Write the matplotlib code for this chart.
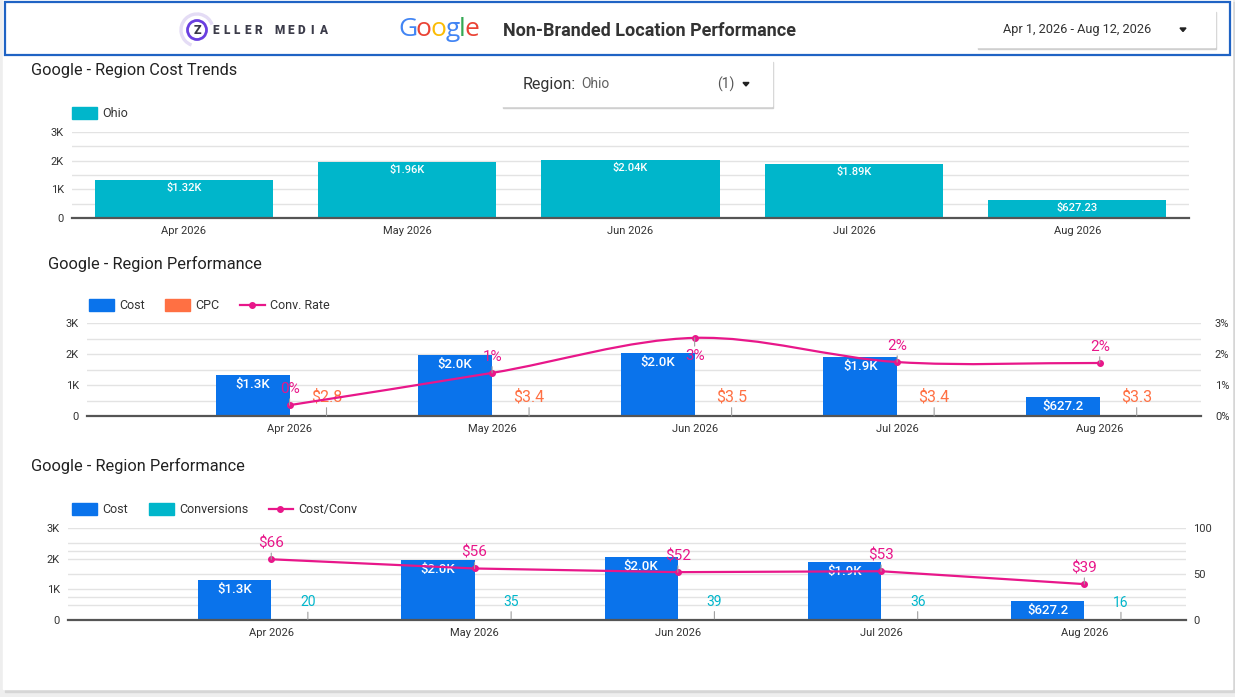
import matplotlib
matplotlib.use('Agg')
import matplotlib.pyplot as plt
from matplotlib.patches import Rectangle, Circle, Arc, Polygon, PathPatch
from matplotlib.path import Path
import matplotlib.ticker as mticker

plt.rcParams['font.family'] = ['Roboto', 'DejaVu Sans']

# ---------------- data ----------------
months = ['Apr 2026', 'May 2026', 'Jun 2026', 'Jul 2026', 'Aug 2026']
region = 'Ohio'
cost = [1320, 1960, 2040, 1890, 627.23]
cpc = [2.8, 3.4, 3.5, 3.4, 3.3]
conv_rate = [0.35, 1.39, 2.52, 1.74, 1.71]
conversions = [20, 35, 39, 36, 16]
cost_per_conv = [66, 56, 52, 53, 39]
date_range = 'Apr 1, 2026 - Aug 12, 2026'
report_title = 'Non-Branded Location Performance'

# ---------------- style ----------------
W, H = 1235, 697
BLUE = '#0a73eb'
TEAL = '#00b6cb'
ORANGE = '#ff7043'
PINK = '#e8178a'
GRID = '#e3e3e3'
TXT = '#333333'

fig = plt.figure(figsize=(W / 100, H / 100), dpi=100)
fig.patch.set_facecolor('#eeeeee')

bg = fig.add_axes([0, 0, 1, 1])
bg.set_xlim(0, W)
bg.set_ylim(H, 0)
bg.axis('off')
bg.set_zorder(0)


def add_ax(l, t, r, b):
    ax = fig.add_axes([l / W, 1 - b / H, (r - l) / W, (b - t) / H])
    ax.set_zorder(2)
    ax.patch.set_alpha(0)
    return ax


def ktick(v, pos):
    return '0' if v == 0 else f'{v/1000:.0f}K'


def k2(v):
    return f'${v/1000:.2f}K' if v >= 1000 else f'${v:.2f}'


def k1(v):
    return f'${v/1000:.1f}K' if v >= 1000 else f'${v:.1f}'


def style_left(ax, extra_grid=()):
    ax.set_ylim(0, 3000)
    for s in ['top', 'right', 'left']:
        ax.spines[s].set_visible(False)
    ax.spines['bottom'].set_color('#555555')
    ax.spines['bottom'].set_linewidth(1.6)
    ax.set_yticks([0, 1000, 2000, 3000])
    ax.yaxis.set_major_formatter(mticker.FuncFormatter(ktick))
    ax.tick_params(axis='y', length=0, labelsize=8, colors=TXT, pad=6)
    ax.tick_params(axis='x', length=0, labelsize=8, colors=TXT, pad=6)
    for g in list(range(500, 3001, 500)) + list(extra_grid):
        ax.axhline(g, color=GRID, lw=1, zorder=0)


def smooth_path(xs, ys):
    n = len(xs)
    m = []
    for i in range(n):
        if i == 0:
            m.append((ys[1] - ys[0]) / (xs[1] - xs[0]))
        elif i == n - 1:
            m.append((ys[-1] - ys[-2]) / (xs[-1] - xs[-2]))
        else:
            m.append((ys[i + 1] - ys[i - 1]) / (xs[i + 1] - xs[i - 1]))
    verts = [(xs[0], ys[0])]
    codes = [Path.MOVETO]
    for i in range(n - 1):
        dx = xs[i + 1] - xs[i]
        verts += [(xs[i] + dx / 3, ys[i] + m[i] * dx / 3),
                  (xs[i + 1] - dx / 3, ys[i + 1] - m[i + 1] * dx / 3),
                  (xs[i + 1], ys[i + 1])]
        codes += [Path.CURVE4] * 3
    return Path(verts, codes)


def leader_label(ax, text, xy, off, color, size):
    above = off > 0
    ax.annotate(text, xy=xy, xytext=(0, off), textcoords='offset pixels',
                ha='center', va='bottom' if above else 'top', color=color, fontsize=size,
                arrowprops=dict(arrowstyle='-', color='#9e9e9e', lw=0.8, shrinkA=0, shrinkB=0,
                                relpos=(0.5, 0) if above else (0.5, 1)),
                zorder=6)


def inside_label(ax, text, xy, size):
    ax.annotate(text, xy=xy, xytext=(0, -3), textcoords='offset pixels', ha='center', va='top',
                color='white', fontsize=size, fontweight='medium', zorder=5)


# ---------------- page / header ----------------
bg.add_patch(Rectangle((5, 2), 1230, 690, color='#d6d6d6', zorder=0))
bg.add_patch(Rectangle((3, 0), 1229, 689, color='white', zorder=0.5))
bg.add_patch(Rectangle((5, 2), 1225, 53, fill=False, edgecolor='#1f63c4', lw=1.6, zorder=1))

# Zeller media logo
bg.add_patch(Arc((197, 30), 32, 32, theta1=110, theta2=340, color='#e4dcf5', lw=2.4, zorder=2))
bg.add_patch(Circle((197, 30), 9.5, fill=False, edgecolor='#6a3fe0', lw=2.0, zorder=2))
bg.text(197, 30.5, 'Z', ha='center', va='center', fontsize=9, fontweight='black', color='#3a3a48', zorder=3)
for i, ch in enumerate('ELLER'):
    bg.text(215.4 + i * 10.8, 30, ch, ha='center', va='center', fontsize=8.5, fontweight='black',
            color='#3c3c4a', zorder=3)
for i, ch in enumerate('MEDIA'):
    bg.text(279.4 + i * 10.8, 30, ch, ha='center', va='center', fontsize=8.5, fontweight='black',
            color='#3c3c4a', zorder=3)

# Google logo
renderer = fig.canvas.get_renderer()
gx = 398
for ch, col in zip('Google', ['#4285F4', '#EA4335', '#FBBC05', '#4285F4', '#34A853', '#EA4335']):
    t = bg.text(gx, 29, ch, ha='left', va='center', fontsize=19, color=col, zorder=3,
                family=['Open Sans', 'DejaVu Sans'])
    bb = t.get_window_extent(renderer=renderer)
    gx += bb.width * 0.93

bg.text(503, 31, report_title, ha='left', va='center', fontsize=13, fontweight='bold', color='#333333', zorder=3)

# date box
bg.add_patch(Rectangle((978, 11.5), 238, 37, color='#cfcfcf', zorder=2))
bg.add_patch(Rectangle((977, 10), 238, 37, color='white', zorder=2.5))
bg.text(1003, 30, date_range, ha='left', va='center', fontsize=9.2, color=TXT, zorder=3)
bg.add_patch(Polygon([(1180, 28), (1186, 28), (1183, 31.5)], color='#222222', zorder=3))

# region box
bg.add_patch(Rectangle((503, 61.5), 270, 46, color='#cfcfcf', zorder=2))
bg.add_patch(Rectangle((502, 60), 270, 46, color='white', zorder=2.5))
bg.text(523, 84, 'Region:', ha='left', va='center', fontsize=11.5, color=TXT, zorder=3)
bg.text(581, 84, region, ha='left', va='center', fontsize=10, color='#616161', zorder=3)
bg.text(717, 84, '(1)', ha='left', va='center', fontsize=10, color='#555555', zorder=3)
bg.add_patch(Polygon([(743, 82.5), (749, 82.5), (746, 86)], color='#222222', zorder=3))

# ---------------- chart 1 ----------------
bg.text(31, 70, 'Google - Region Cost Trends', ha='left', va='center', fontsize=11.7, color='#222222')
bg.add_patch(Rectangle((72, 107), 25, 12, color=TEAL))
bg.text(102, 113.5, region, ha='left', va='center', fontsize=9, color=TXT)

ax1 = add_ax(72, 132, 1189, 218)
x1 = [i + 0.5 for i in range(len(months))]
ax1.set_xlim(0, len(months))
style_left(ax1)
ax1.bar(x1, cost, width=0.797, color=TEAL, zorder=2)
for x, v in zip(x1, cost):
    inside_label(ax1, k2(v), (x, v), 8)
ax1.set_xticks(x1)
ax1.set_xticklabels(months)

# ---------------- chart 2 ----------------
bg.text(48, 264, 'Google - Region Performance', ha='left', va='center', fontsize=11.8, color='#222222')
bg.add_patch(Rectangle((89, 299), 25, 12, color=BLUE))
bg.text(119, 305.5, 'Cost', ha='left', va='center', fontsize=9, color=TXT)
bg.add_patch(Rectangle((165, 299), 25, 12, color=ORANGE))
bg.text(195, 305.5, 'CPC', ha='left', va='center', fontsize=9, color=TXT)
bg.plot([240, 265], [305, 305], color=PINK, lw=1.6)
bg.plot([252], [305], 'o', color=PINK, ms=4)
bg.text(270, 305.5, 'Conv. Rate', ha='left', va='center', fontsize=9, color=TXT)

w = 0.365
ax2 = add_ax(87, 323, 1201, 416)
c2 = [i + 1 for i in range(len(months))]
ax2.set_xlim(0, len(months) + 0.5)
style_left(ax2)
ax2.bar([c - w / 2 for c in c2], cost, width=w, color=BLUE, zorder=2)
ax2.bar([c + w / 2 for c in c2], cpc, width=w, color=ORANGE, zorder=2)
for c, v in zip(c2, cost):
    inside_label(ax2, k1(v), (c - w / 2, v), 9.5)
for c, v in zip(c2, cpc):
    leader_label(ax2, f'${v:.1f}', (c + w / 2, v), 11, ORANGE, 11.5)
ax2.set_xticks(c2)
ax2.set_xticklabels(months)

ax2r = ax2.twinx()
ax2r.set_zorder(3)
ax2r.set_ylim(0, 3)
ax2r.set_xlim(ax2.get_xlim())
for s in ax2r.spines.values():
    s.set_visible(False)
ax2r.set_yticks([0, 1, 2, 3])
ax2r.yaxis.set_major_formatter(mticker.FuncFormatter(lambda v, p: f'{v:.0f}%'))
ax2r.tick_params(axis='y', length=0, labelsize=8, colors=TXT, pad=10)
ax2r.add_patch(PathPatch(smooth_path(c2, conv_rate), fill=False, edgecolor=PINK, lw=1.6, zorder=4))
ax2r.plot(c2, conv_rate, 'o', color=PINK, ms=4, zorder=5)
conv_label_side = [1, 1, -1, 1, 1]
for c, v, s in zip(c2, conv_rate, conv_label_side):
    leader_label(ax2r, f'{v:.0f}%', (c, v), (9 if s > 0 else 11) * s, PINK, 11)

# ---------------- chart 3 ----------------
bg.text(31, 466, 'Google - Region Performance', ha='left', va='center', fontsize=11.8, color='#222222')
bg.add_patch(Rectangle((72, 503), 25, 12, color=BLUE))
bg.text(102, 509.5, 'Cost', ha='left', va='center', fontsize=9, color=TXT)
bg.add_patch(Rectangle((149, 503), 25, 12, color=TEAL))
bg.text(179, 509.5, 'Conversions', ha='left', va='center', fontsize=9, color=TXT)
bg.plot([269, 293], [509, 509], color=PINK, lw=1.6)
bg.plot([280], [509], 'o', color=PINK, ms=4)
bg.text(298, 509.5, 'Cost/Conv', ha='left', va='center', fontsize=9, color=TXT)

w3 = 0.36
ax3 = add_ax(68, 528, 1186, 620)
c3 = [i + 1 for i in range(len(months))]
ax3.set_xlim(0, len(months) + 0.5)
right_max = 100
style_left(ax3, extra_grid=[r / right_max * 3000 for r in (25, 75)])
ax3.bar([c - w3 / 2 for c in c3], cost, width=w3, color=BLUE, zorder=2)
ax3.bar([c + w3 / 2 for c in c3], conversions, width=w3, color='#1b8a96', zorder=2)
for c, v in zip(c3, cost):
    inside_label(ax3, k1(v), (c - w3 / 2, v), 9.5)
for c, v in zip(c3, conversions):
    leader_label(ax3, f'{v}', (c + w3 / 2, v), 10, TEAL, 10)
ax3.set_xticks(c3)
ax3.set_xticklabels(months)

ax3r = ax3.twinx()
ax3r.set_zorder(3)
ax3r.set_ylim(0, right_max)
ax3r.set_xlim(ax3.get_xlim())
for s in ax3r.spines.values():
    s.set_visible(False)
ax3r.set_yticks([0, 50, 100])
ax3r.tick_params(axis='y', length=0, labelsize=8, colors=TXT, pad=5)
ax3r.plot(c3, cost_per_conv, '-o', color=PINK, lw=1.6, ms=4, zorder=4)
for c, v in zip(c3, cost_per_conv):
    leader_label(ax3r, f'${v:.0f}', (c, v), 9, PINK, 11)

fig.savefig('out.png', dpi=100, facecolor=fig.get_facecolor())
